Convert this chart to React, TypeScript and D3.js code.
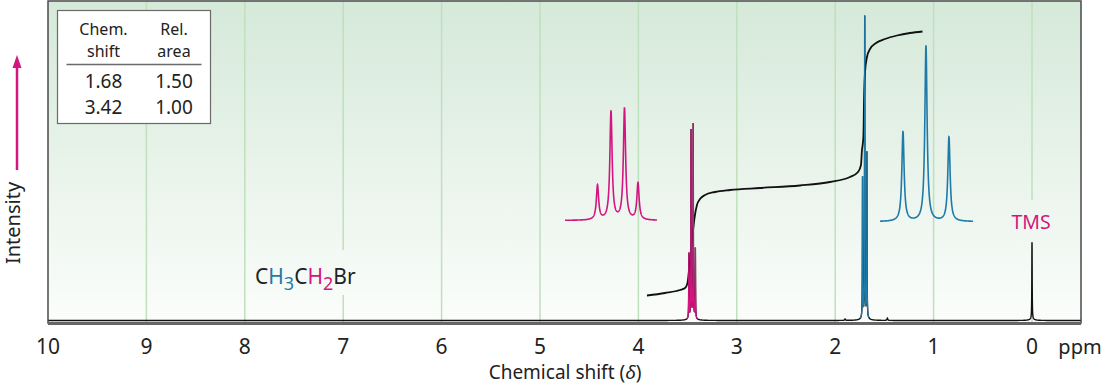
import React from "react";
import * as d3 from "d3";

const W = 1105;
const H = 388;
const FONT = "'Noto Sans', 'DejaVu Sans', sans-serif";
const MAGENTA = "#d4157f";
const BLUE = "#1f7aa8";

// axis
const tickValues = [10, 9, 8, 7, 6, 5, 4, 3, 2, 1, 0];
const gridValues = [9, 8, 7, 6, 5, 4, 3, 2, 1, 0];

// table
const tableHeadLeft = ["Chem.", "shift"];
const tableHeadRight = ["Rel.", "area"];
const tableShifts = ["1.68", "3.42"];
const tableAreas = ["1.50", "1.00"];

// main spectrum peaks (ppm, intensity)
const quartetPpm = [3.487, 3.465, 3.443, 3.421];
const quartetHeight = [65, 187, 193, 70];
const tripletPpm = [1.722, 1.7, 1.678];
const tripletHeight = [140, 300, 165];
const tmsPpm = [0.0];
const tmsHeight = [77];
const minorPpm = [1.9, 1.47];
const minorHeight = [1.5, 2.5];
const skirtPpm = [3.454, 1.7, 0.0];
const skirtHeight = [3, 3, 1.2];

// integration curve (ppm, intensity)
const integralPpm = [
  3.913, 3.73, 3.577, 3.526, 3.501, 3.481, 3.455, 3.43, 3.405, 3.374, 3.323,
  3.222, 3.069, 2.764, 2.358, 2.053, 1.85, 1.768, 1.738, 1.728, 1.721, 1.713,
  1.707, 1.697, 1.677, 1.646, 1.585, 1.494, 1.372, 1.24, 1.113,
];
const integralValue = [
  25, 27.5, 30.5, 32.5, 37.5, 55.5, 80.5, 102.5, 115.5, 121.5, 125.5, 128.5,
  130.5, 132.5, 135, 138.5, 143.5, 148.5, 155.5, 170.5, 175.5, 185.5, 220.5,
  248.5, 263.5, 271.5, 277.5, 281.5, 285, 287.5, 289,
];

// expanded insets (relative intensity)
const insetQuartetRel = [0.31, 0.973, 1.0, 0.327];
const insetTripletRel = [0.51, 1.0, 0.48];

function lineShape(p: number, centers: number[], heights: number[], gamma: number) {
  let s = 0;
  for (let i = 0; i < centers.length; i++) {
    const d = (p - centers[i]) / gamma;
    s += heights[i] / (1 + d * d);
  }
  return s;
}

function mainValue(p: number) {
  return (
    lineShape(p, quartetPpm, quartetHeight, 0.0018) +
    lineShape(p, tripletPpm, tripletHeight, 0.0018) +
    lineShape(p, tmsPpm, tmsHeight, 0.002) +
    lineShape(p, minorPpm, minorHeight, 0.004) +
    lineShape(p, skirtPpm, skirtHeight, 0.03)
  );
}

export default function App() {
  const left = 48;
  const right = 1081;
  const top = 1;
  const bottom = 323;

  const x = d3.scaleLinear().domain([10, 0]).range([48, 1032]);
  const y = d3.scaleLinear().domain([0, 300]).range([320.5, 20.5]);

  const raw: number[] = [];
  for (let p = -0.5; p <= 10.0001; p += 0.005) raw.push(p);
  for (const c of [...quartetPpm, ...tripletPpm, ...tmsPpm, ...minorPpm]) {
    for (let k = -250; k <= 250; k++) raw.push(c + k * 0.00015);
  }
  raw.sort((a, b) => b - a);
  const samples: number[] = [];
  for (const p of raw) {
    if (samples.length === 0 || Math.abs(samples[samples.length - 1] - p) > 1e-6) samples.push(p);
  }
  const spec = samples.map((p) => [p, mainValue(p)] as [number, number]);
  const line = d3
    .line<[number, number]>()
    .x((d) => x(d[0]))
    .y((d) => y(d[1]));
  const specPath = line(spec) || "";
  const magPath = line(spec.filter((d) => d[0] >= 3.398 && d[0] <= 3.51)) || "";
  const bluePath = line(spec.filter((d) => d[0] >= 1.658 && d[0] <= 1.744)) || "";

  const integralPts = integralPpm.map((p, i) => [p, integralValue[i]] as [number, number]);
  const integralPath =
    d3
      .line<[number, number]>()
      .x((d) => x(d[0]))
      .y((d) => y(d[1]))
      .curve(d3.curveMonotoneX)(integralPts) || "";

  // quartet inset
  const qx = d3.scaleLinear().domain([3.54, 3.39]).range([565, 657]);
  const qy = d3.scaleLinear().domain([0, 1]).range([220.5, 109]);
  const qPts: [number, number][] = [];
  for (let i = 0; i <= 900; i++) {
    const p = 3.54 - (i * 0.15) / 900;
    qPts.push([p, lineShape(p, quartetPpm, insetQuartetRel, 0.0022)]);
  }
  const qPath =
    d3
      .line<[number, number]>()
      .x((d) => qx(d[0]))
      .y((d) => qy(d[1]))(qPts) || "";

  // triplet inset
  const tx = d3.scaleLinear().domain([1.744, 1.655]).range([880, 973]);
  const ty = d3.scaleLinear().domain([0, 1]).range([221.7, 46]);
  const tPts: [number, number][] = [];
  for (let i = 0; i <= 900; i++) {
    const p = 1.744 - (i * 0.089) / 900;
    tPts.push([p, lineShape(p, tripletPpm, insetTripletRel, 0.0013)]);
  }
  const tPath =
    d3
      .line<[number, number]>()
      .x((d) => tx(d[0]))
      .y((d) => ty(d[1]))(tPts) || "";

  return (
    <svg
      width={W}
      height={H}
      viewBox={`0 0 ${W} ${H}`}
      style={{ position: "absolute", left: 0, top: 0, background: "#ffffff" }}
      fontFamily={FONT}
    >
      <defs>
        <linearGradient id="bg" gradientUnits="userSpaceOnUse" x1="0" y1={top} x2="0" y2={bottom}>
          <stop offset="0" stopColor="#d5e9d9" />
          <stop offset="0.5" stopColor="#e8f3ea" />
          <stop offset="1" stopColor="#fbfdfb" />
        </linearGradient>
      </defs>

      <rect x={left} y={top} width={right - left} height={bottom - top} fill="url(#bg)" />

      {gridValues.map((v) => (
        <line key={v} x1={x(v)} x2={x(v)} y1={top} y2={bottom} stroke="#bfe0bc" strokeWidth={1.5} />
      ))}

      {/* label backgrounds */}
      <rect x={1006} y={200} width={52} height={42} fill="url(#bg)" />
      <rect x={250} y={250} width={112} height={45} fill="url(#bg)" />

      {/* table */}
      <rect x={57.5} y={10.5} width={153} height={113} fill="#ffffff" stroke="#6a6a6a" strokeWidth={1.2} />
      {tableHeadLeft.map((t, i) => (
        <text key={"l" + i} x={103.5} y={35 + i * 22} textAnchor="middle" fontSize={16} fill="#222">
          {t}
        </text>
      ))}
      {tableHeadRight.map((t, i) => (
        <text key={"r" + i} x={174} y={35 + i * 22} textAnchor="middle" fontSize={16} fill="#222">
          {t}
        </text>
      ))}
      <line x1={66.5} x2={201.5} y1={64.5} y2={64.5} stroke="#6a6a6a" strokeWidth={1.5} />
      {tableShifts.map((t, i) => (
        <text key={"s" + i} x={103.5} y={87.5 + i * 26} textAnchor="middle" fontSize={19} fill="#222">
          {t}
        </text>
      ))}
      {tableAreas.map((t, i) => (
        <text key={"a" + i} x={174} y={87.5 + i * 26} textAnchor="middle" fontSize={19} fill="#222">
          {t}
        </text>
      ))}

      {/* insets */}
      <path d={qPath} fill="none" stroke={MAGENTA} strokeWidth={1.6} />
      <path d={tPath} fill="none" stroke={BLUE} strokeWidth={1.6} />

      {/* integral */}
      <path d={integralPath} fill="none" stroke="#111" strokeWidth={1.8} />

      {/* spectrum */}
      <path d={specPath} fill="none" stroke="#111" strokeWidth={1.4} />
      <path d={magPath} fill="none" stroke={MAGENTA} strokeWidth={1.2} />
      <path d={bluePath} fill="none" stroke={BLUE} strokeWidth={1.2} />

      {/* frame */}
      <rect x={left} y={top} width={right - left} height={bottom - top} fill="none" stroke="#4a4a4a" strokeWidth={1.5} />
      <line x1={left} x2={right} y1={323.5} y2={323.5} stroke="#666" strokeWidth={3} />

      {/* labels */}
      <text x={x(0) - 1} y={229} textAnchor="middle" fontSize={19.5} fill={MAGENTA}>
        TMS
      </text>
      <text x={255} y={283.5} fontSize={21} fill="#222">
        C<tspan fill={BLUE}>H</tspan>
        <tspan fill={BLUE} fontSize={18} dy={6}>3</tspan>
        <tspan dy={-6}>C</tspan>
        <tspan fill={MAGENTA}>H</tspan>
        <tspan fill={MAGENTA} fontSize={18} dy={6}>2</tspan>
        <tspan dy={-6}>Br</tspan>
      </text>

      {tickValues.map((v) => (
        <text key={v} x={x(v)} y={353.5} textAnchor="middle" fontSize={21} fill="#222">
          {v}
        </text>
      ))}
      <text x={1080} y={353.5} textAnchor="middle" fontSize={20} fill="#222">
        ppm
      </text>
      <text x={565} y={378.5} textAnchor="middle" fontSize={19} fill="#222">
        Chemical shift (<tspan fontStyle="italic">δ</tspan>)
      </text>

      <text transform={`translate(20,223) rotate(-90)`} textAnchor="middle" fontSize={20} fill="#222">
        Intensity
      </text>
      <line x1={17} x2={17} y1={170} y2={64} stroke={MAGENTA} strokeWidth={2.5} />
      <path d="M17,55 L12.5,68 L21.5,68 Z" fill={MAGENTA} />
    </svg>
  );
}
